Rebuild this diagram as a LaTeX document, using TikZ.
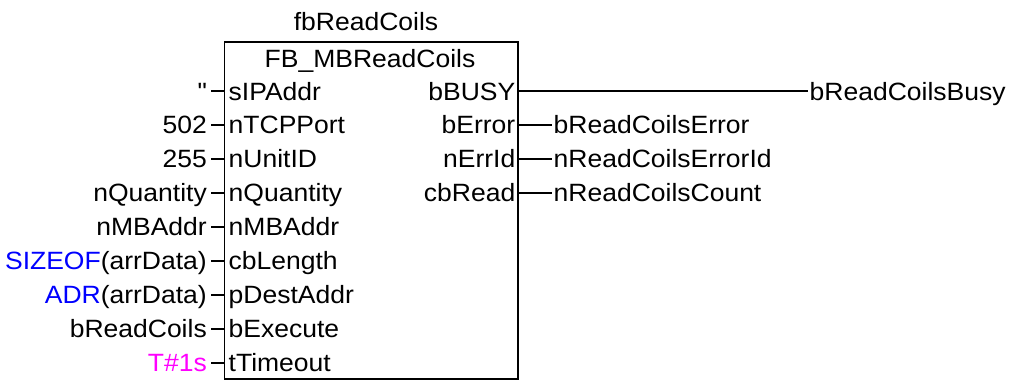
\documentclass[tikz,border=0pt]{standalone}
\usepackage{fontspec}
\setmainfont{Liberation Sans}[FakeStretch=1.06]
\definecolor{kwblue}{RGB}{0,0,255}
\definecolor{kwmag}{RGB}{255,0,255}
\begin{document}
\begin{tikzpicture}[x=1pt,y=-1pt,
  lbl/.style={inner sep=0pt,font=\fontsize{25}{30}\selectfont},
  wire/.style={line width=1.7pt}]
\useasboundingbox (0,0) rectangle (1016,381);
\node[draw, line width=1.7pt, minimum width=293.2pt, minimum height=337.6pt, inner sep=0pt] (fb) at (371.1,210.5) {};
\node[lbl, anchor=base] (inst) at (366,30) {fbReadCoils};
\node[lbl, anchor=base] (type) at (370,67) {FB\_MBReadCoils};
\foreach \v/\p [count=\i from 0] in {
 {\textquotesingle\textquotesingle}/sIPAddr,
 502/nTCPPort,
 255/nUnitID,
 nQuantity/nQuantity,
 nMBAddr/nMBAddr,
 {{\color{kwblue}SIZEOF}(arrData)}/cbLength,
 {{\color{kwblue}ADR}(arrData)}/pDestAddr,
 bReadCoils/bExecute,
 {{\color{kwmag}T\#1s}}/tTimeout}
{
 \pgfmathsetmacro\yy{91+33.96*\i}
 \node[lbl, anchor=base east] (v\i) at (207,\yy+9) {\v};
 \node[lbl, anchor=base west] (p\i) at (228.5,\yy+9) {\p};
 \coordinate (a\i) at (211,\yy);
 \draw[wire] (a\i) -- (a\i -| fb.west);
}
\foreach \o/\t/\xe [count=\i from 0] in {
 bBUSY/bReadCoilsBusy/808,
 bError/bReadCoilsError/552,
 nErrId/nReadCoilsErrorId/552,
 cbRead/nReadCoilsCount/552}
{
 \pgfmathsetmacro\yy{91+33.96*\i}
 \node[lbl, anchor=base east] (o\i) at (515.5,\yy+9) {\o};
 \node[lbl, anchor=base west] (t\i) at (\xe+1.5,\yy+9) {\t};
 \coordinate (b\i) at (\xe,\yy);
 \draw[wire] (b\i -| fb.east) -- (b\i);
}
\end{tikzpicture}
\end{document}
